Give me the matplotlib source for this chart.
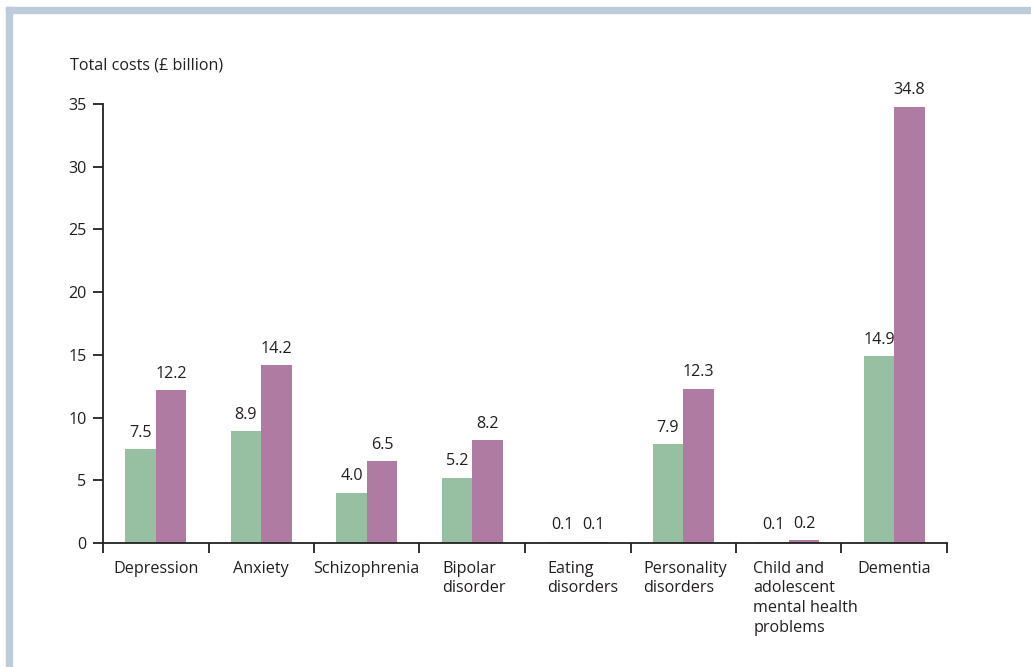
import matplotlib
matplotlib.use("Agg")
import matplotlib.pyplot as plt
from matplotlib.patches import Rectangle
import matplotlib.transforms as mtrans
import numpy as np

categories = ["Depression", "Anxiety", "Schizophrenia", "Bipolar\ndisorder",
              "Eating\ndisorders", "Personality\ndisorders",
              "Child and\nadolescent\nmental health\nproblems", "Dementia"]
series_a = [7.5, 8.9, 4.0, 5.2, 0.1, 7.9, 0.1, 14.9]
series_b = [12.2, 14.2, 6.5, 8.2, 0.1, 12.3, 0.2, 34.8]
yticks = [0, 5, 10, 15, 20, 25, 30, 35]

# per-label horizontal shift (pixels) to mimic original layout
label_shift_px = [0, 0, 0, 2, 5, 2, 17, 0]

green = "#97BFA2"
purple = "#B07BA3"
txt = "#231F20"
FS = 11.6
plt.rcParams['font.family'] = ["Open Sans", 'DejaVu Sans']

W, H = 1031, 667
fig = plt.figure(figsize=(W / 100, H / 100), dpi=100)

# border bands
fig.patches.append(Rectangle((6 / W, 1 - 13 / H), 1 - 6 / W, 6 / H,
                             transform=fig.transFigure, color="#BCCCDA", zorder=0))
fig.patches.append(Rectangle((6 / W, 0), 6 / W, 1 - 7 / H,
                             transform=fig.transFigure, color="#BCCCDA", zorder=0))

ax = fig.add_axes([103 / W, 1 - 543 / H, (947 - 103) / W, (543 - 104) / H])
x = np.arange(len(categories))
bw = 0.29
ba = ax.bar(x - bw / 2, series_a, bw, color=green, linewidth=0)
bb = ax.bar(x + bw / 2, series_b, bw, color=purple, linewidth=0)

for rects, vals in ((ba, series_a), (bb, series_b)):
    for r, v in zip(rects, vals):
        ax.annotate(f"{v:.1f}", (r.get_x() + r.get_width() / 2, r.get_height()),
                    xytext=(0, 6), textcoords="offset points",
                    ha="center", va="bottom", fontsize=FS, color=txt)

ax.set_xlim(-0.5, len(categories) - 0.5)
ax.set_ylim(0, 35)
ax.set_yticks(yticks)
ax.set_yticklabels([str(t) for t in yticks], fontsize=FS, color=txt)
ax.set_xticks(np.arange(len(categories) + 1) - 0.5)
ax.set_xticklabels([])
ax.tick_params(axis="both", direction="out", length=7, width=1.3, color="#222222")
ax.tick_params(axis="y", pad=5)

for i, (c, s) in enumerate(zip(categories, label_shift_px)):
    tr = ax.get_xaxis_transform() + mtrans.ScaledTranslation(s / 100, 0, fig.dpi_scale_trans)
    ax.text(i, -0.04, c, transform=tr, ha="center", va="top",
            multialignment="left", fontsize=FS, color=txt, linespacing=1.32)

for sp in ("top", "right"):
    ax.spines[sp].set_visible(False)
for sp in ("left", "bottom"):
    ax.spines[sp].set_linewidth(1.3)
    ax.spines[sp].set_color("#222222")

fig.text(70 / W, 1 - 65 / H, "Total costs (£ billion)", ha="left", va="center",
         fontsize=FS, color=txt)

fig.savefig("out.png", dpi=100)
